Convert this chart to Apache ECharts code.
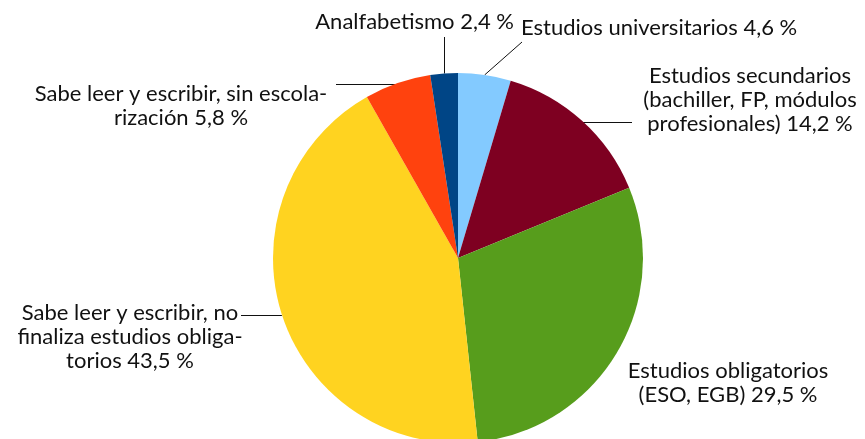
<!DOCTYPE html>
<html>
<head>
<meta charset="utf-8">
<script src="https://cdn.jsdelivr.net/npm/echarts@6/dist/echarts.min.js"></script>
<style>
html,body{margin:0;padding:0;background:#fff;}
#chart{width:865px;height:439px;}
</style>
</head>
<body>
<div id="chart"></div>
<script>
// Data
const categories = [
  'Estudios universitarios',
  'Estudios secundarios\n(bachiller, FP, módulos\nprofesionales)',
  'Estudios obligatorios\n(ESO, EGB)',
  'Sabe leer y escribir, no\nfinaliza estudios obliga-\ntorios',
  'Sabe leer y escribir, sin escola-\nrización',
  'Analfabetismo'
];
const values = [4.6, 14.2, 29.5, 43.5, 5.8, 2.4];
const colors = ['#83caff', '#7e0021', '#579d1c', '#ffd320', '#ff420e', '#004586'];

// Label layout (positions of text and leader-line ends)
const labelPos = [
  {x: 521, y: 28, align: 'left', lineEnd: [522, 42], dir: 'd'},
  {x: 750, y: 100, align: 'center', lineEnd: [632, 122.5], dir: 'h'},
  {x: 728, y: 383, align: 'center', lineEnd: null},
  {x: 130, y: 337, align: 'center', lineEnd: [241, 315.5], dir: 'h'},
  {x: 181, y: 106, align: 'center', lineEnd: [336, 84.5], dir: 'h'},
  {x: 514, y: 22, align: 'right', lineEnd: [444.5, 37], dir: 'v'}
];

const CX = 458, CY = 258, R = 185;
const total = values.reduce((a, b) => a + b, 0);
function midPoint(idx) {
  let before = 0;
  for (let i = 0; i < idx; i++) before += values[i];
  const frac = (before + values[idx] / 2) / total;
  const ang = frac * 2 * Math.PI; // clockwise from 12 o'clock
  return [CX + R * Math.sin(ang), CY - R * Math.cos(ang)];
}

const chart = echarts.init(document.getElementById('chart'));
chart.setOption({
  animation: false,
  series: [{
    type: 'pie',
    center: [CX, CY],
    radius: R,
    startAngle: 90,
    clockwise: true,
    avoidLabelOverlap: false,
    itemStyle: {borderWidth: 0},
    label: {
      show: true,
      position: 'outside',
      fontFamily: 'Lato',
      fontSize: 22,
      lineHeight: 24,
      color: '#111',
      formatter: p => p.name + ' ' + p.value.toFixed(1).replace('.', ',') + ' %'
    },
    labelLine: {show: true, smooth: false, lineStyle: {color: '#111', width: 1}},
    emphasis: {disabled: true},
    data: categories.map((c, i) => ({
      name: c,
      value: values[i],
      itemStyle: {color: colors[i]},
      labelLine: {show: labelPos[i].lineEnd !== null},
      label: {align: labelPos[i].align}
    })),
    labelLayout: function (params) {
      const i = params.dataIndex;
      const lp = labelPos[i];
      const res = {x: lp.x, y: lp.y, align: lp.align, verticalAlign: 'middle'};
      if (lp.lineEnd) {
        let s = midPoint(i);
        if (lp.dir === 'h') s = [s[0], lp.lineEnd[1]];
        if (lp.dir === 'v') s = [lp.lineEnd[0], s[1]];
        res.labelLinePoints = [s, lp.lineEnd, lp.lineEnd];
      }
      return res;
    }
  }]
});
</script>
</body>
</html>
